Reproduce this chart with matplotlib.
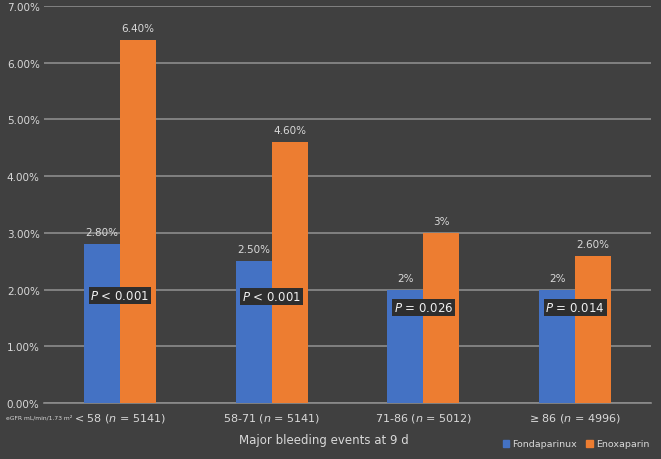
import numpy as np
from matplotlib import pyplot as plt
from matplotlib.patches import Patch

# data
groups = ['< 58 ($n$ = 5141)', '58-71 ($n$ = 5141)', '71-86 ($n$ = 5012)', '≥ 86 ($n$ = 4996)']
fonda = [2.8, 2.5, 2.0, 2.0]
enoxa = [6.4, 4.6, 3.0, 2.6]
fonda_labels = ['2.80%', '2.50%', '2%', '2%']
enoxa_labels = ['6.40%', '4.60%', '3%', '2.60%']
p_labels = ['$P$ < 0.001', '$P$ < 0.001', '$P$ = 0.026', '$P$ = 0.014']
p_ypos = [1.9, 1.88, 1.68, 1.68]

bg = '#404040'
txt = '#d9d9d9'
blue = '#4472C4'
orange = '#ED7D31'

fig = plt.figure(figsize=(6.61, 4.6), dpi=100, facecolor=bg)
ax = fig.add_axes([44/661, 56/460, 607/661, 397/460])
ax.set_facecolor(bg)

x = np.arange(len(groups))
w = 0.237
ax.bar(x - w/2, fonda, w, color=blue, zorder=3)
ax.bar(x + w/2, enoxa, w, color=orange, zorder=3)

for i in range(len(groups)):
    ax.text(x[i] - w/2, fonda[i] + 0.12, fonda_labels[i], ha='center', va='bottom',
            color=txt, fontsize=7.5)
    ax.text(x[i] + w/2, enoxa[i] + 0.12, enoxa_labels[i], ha='center', va='bottom',
            color=txt, fontsize=7.5)
    ax.text(x[i], p_ypos[i], p_labels[i], ha='center', va='center', color='#f0f0f0',
            fontsize=8.5, zorder=5,
            bbox=dict(boxstyle='square,pad=0.15', facecolor='#2e2e2e', edgecolor='none'))

ax.set_xlim(-0.5, 3.5)
ax.set_ylim(0, 7)
ax.set_yticks(np.arange(0, 8, 1))
ax.set_yticklabels(['%.2f%%' % v for v in range(8)])
ax.yaxis.grid(True, color='#8c8c8c', linewidth=1.2, zorder=0)
ax.set_axisbelow(True)
ax.tick_params(axis='y', length=0, colors=txt, labelsize=7.5, pad=-2)
ax.tick_params(axis='x', length=0, colors=txt, labelsize=8, pad=6)
for lbl in ax.get_yticklabels():
    lbl.set_horizontalalignment('left')
    lbl.set_x(-40/607)
ax.set_xticks(x)
ax.set_xticklabels(groups)
for s in ['top', 'right', 'left']:
    ax.spines[s].set_visible(False)
ax.spines['bottom'].set_color('#8c8c8c')
ax.spines['bottom'].set_linewidth(1.2)

fig.text(6/661, 1 - 418/460, 'eGFR mL/min/1.73 m²', color=txt, fontsize=4.3,
         ha='left', va='center')
fig.text(324/661, 1 - 441/460, 'Major bleeding events at 9 d', color=txt, fontsize=8.5,
         ha='center', va='center')

handles = [Patch(color=blue, label='Fondaparinux'), Patch(color=orange, label='Enoxaparin')]
fig.legend(handles=handles, loc='center', bbox_to_anchor=(576/661, 1 - 445/460), ncol=2,
           frameon=False, fontsize=6.8, labelcolor=txt, handlelength=0.7, handleheight=0.7,
           handletextpad=0.3, columnspacing=1.0, borderpad=0, borderaxespad=0)

fig.savefig('out.png', dpi=100, facecolor=bg)
